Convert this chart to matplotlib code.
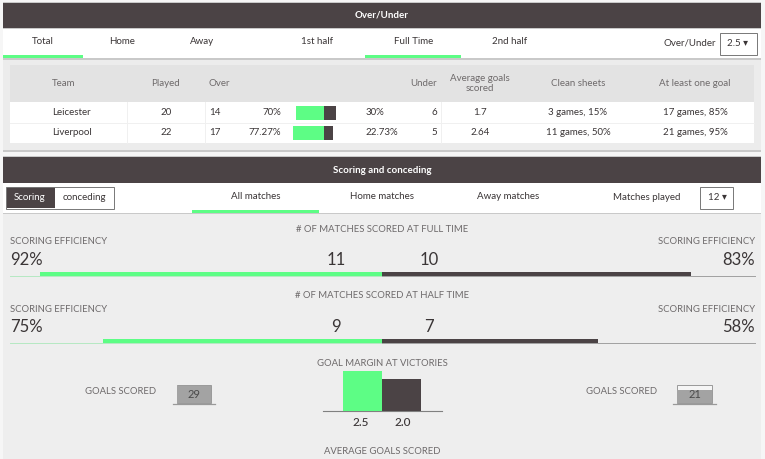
import matplotlib.pyplot as plt
from matplotlib.patches import Rectangle

plt.rcParams["font.family"] = ["Lato", "DejaVu Sans"]

DARK = "#4b4345"
GREEN = "#5dfd85"
GREY_TEXT = "#6e6a6b"
TEXT = "#3a3536"

# over/under table
top_tabs = ["Total", "Home", "Away", "1st half", "Full Time", "2nd half"]
team_headers = ["Team", "Played", "Over", "Under", "Average goals\nscored", "Clean sheets", "At least one goal"]
teams = ["Leicester", "Liverpool"]
played = [20, 22]
over_counts = [14, 17]
over_pct = [70, 77.27]
under_pct = [30, 22.73]
under_counts = [6, 5]
avg_goals = ["1.7", "2.64"]
clean_sheets = ["3 games, 15%", "11 games, 50%"]
one_goal = ["17 games, 85%", "21 games, 95%"]

# scoring and conceding
mid_tabs = ["All matches", "Home matches", "Away matches"]
eff_titles = ["# OF MATCHES SCORED AT FULL TIME", "# OF MATCHES SCORED AT HALF TIME"]
eff_home = [92, 75]
eff_away = [83, 58]
matches_home = [11, 9]
matches_away = [10, 7]
margins = [2.5, 2.0]
goals_scored = [29, 21]

fig = plt.figure(figsize=(7.65, 4.59), dpi=100, facecolor="#f4f4f4")
ax = fig.add_axes([0, 0, 1, 1])
ax.set_xlim(0, 765)
ax.set_ylim(459, 0)
ax.axis("off")


def box(x0, y0, x1, y1, color, edge="none", lw=0, z=1):
    ax.add_patch(Rectangle((x0, y0), x1 - x0, y1 - y0, facecolor=color, edgecolor=edge, linewidth=lw, zorder=z))


def txt(x, y, s, size=7, color=TEXT, ha="center", **kw):
    ax.text(x, y, s, fontsize=size, color=color, ha=ha, va="center", zorder=5, **kw)


# panel backgrounds
box(0, 0, 765, 459, "#f6f6f6", z=0)
box(3, 2, 761, 152, "#c9c9c9", z=0.5)
box(3, 156, 761, 459, "#c9c9c9", z=0.5)
box(3, 3, 761, 28, DARK)
box(3, 29, 761, 58, "white")
box(3, 60, 761, 150, "#ececec")
box(3, 157, 761, 183, DARK)
box(3, 183, 761, 213, "white")
box(3, 214, 761, 459, "#eeeeee")

txt(382, 15.5, "Over/Under", 7, "white", fontweight="bold")
txt(382, 170.5, "Scoring and conceding", 7, "white", fontweight="bold")

# top tabs
for x, s in zip([43, 122, 202, 317, 414, 510], top_tabs):
    txt(x, 42, s, 7)
box(3, 55, 83, 58, GREEN, z=2)
box(365, 55, 461, 58, GREEN, z=2)
txt(690, 43.5, "Over/Under", 7)
box(720.5, 32.5, 757, 54.5, "white", "#777777", 0.7)
txt(738, 44, "2.5 ▾", 7)

# table
box(10, 65, 754, 102, "#e3e3e3")
box(10, 102, 754, 142.5, "white")
ax.plot([10, 754], [122.5, 122.5], color="#f0f0f0", lw=0.7, zorder=2)
for x in [127.5, 205.5, 441.5]:
    ax.plot([x, x], [102, 142.5], color="#f0f0f0", lw=0.7, zorder=2)
for x, s, ha in zip([52, 166, 209, 437, 480, 578, 695], team_headers, ["left", "center", "left", "right", "center", "center", "center"]):
    txt(x, 83.5, s, 7, GREY_TEXT, ha=ha, linespacing=1.25)

for i, y in enumerate([112.5, 132.5]):
    txt(52, y, teams[i], 7, ha="left")
    txt(166, y, str(played[i]), 7)
    txt(209, y, str(over_counts[i]), 7, ha="left")
    txt(281, y, f"{over_pct[i]:g}%", 7, ha="right")
    txt(366, y, f"{under_pct[i]:g}%", 7, ha="left")
    txt(437, y, str(under_counts[i]), 7, ha="right")
    txt(480, y, avg_goals[i], 7)
    txt(578, y, clean_sheets[i], 7)
    txt(695, y, one_goal[i], 7)
    # mini over/under bar, 0.4px per percent either side of 324
    ax.barh(y, -over_pct[i] * 0.4, left=324, height=14, color=GREEN, zorder=3)
    ax.barh(y, under_pct[i] * 0.4, left=324, height=14, color=DARK, zorder=3)

# second panel tabs
box(7, 187, 55, 208, DARK, z=2)
box(55, 187, 114, 208, "white", z=2)
box(6.5, 186.5, 114.5, 208.5, "none", "#777777", 0.7, z=3)
txt(30, 197.5, "Scoring", 7, "white")
txt(84, 197.5, "conceding", 7)
for x, s in zip([256, 382, 508], mid_tabs):
    txt(x, 196.5, s, 7)
box(192, 210, 319, 213, GREEN, z=2)
txt(647, 197.5, "Matches played", 7)
box(700, 186.5, 733, 208.5, "white", "#777777", 0.7)
txt(717, 197.5, "12 ▾", 7)

# scoring efficiency rows, 3.72px per percent from the centre
for i, (title_y, label_y, num_y, bar_y) in enumerate([(229, 242, 260, 274), (296, 309, 327, 341)]):
    txt(382, title_y, eff_titles[i], 6.8, GREY_TEXT)
    txt(10, label_y, "SCORING EFFICIENCY", 6.8, GREY_TEXT, ha="left")
    txt(755, label_y, "SCORING EFFICIENCY", 6.8, GREY_TEXT, ha="right")
    txt(10, num_y, f"{eff_home[i]}%", 12, ha="left")
    txt(755, num_y, f"{eff_away[i]}%", 12, ha="right")
    txt(336, num_y, str(matches_home[i]), 12)
    txt(429, num_y, str(matches_away[i]), 12)
    ax.plot([10, 382], [bar_y + 1.5] * 2, color="#b5e8c2", lw=0.7, zorder=2)
    ax.plot([382, 755], [bar_y + 1.5] * 2, color="#a0a0a0", lw=0.7, zorder=2)
    ax.barh(bar_y, -eff_home[i] * 3.72, left=382, height=4, color=GREEN, zorder=3)
    ax.barh(bar_y, eff_away[i] * 3.72, left=382, height=4, color=DARK, zorder=3)

# goal margin, 16px per goal
txt(382, 363.5, "GOAL MARGIN AT VICTORIES", 6.8, GREY_TEXT)
ax.bar([362.5, 401.5], [-m * 16 for m in margins], bottom=410.5, width=39, color=[GREEN, DARK], zorder=3)
ax.plot([323, 442], [410.5, 410.5], color="#808080", lw=0.8, zorder=2)
txt(361, 422, f"{margins[0]:.1f}", 8.5, fontweight="medium")
txt(403, 422, f"{margins[1]:.1f}", 8.5, fontweight="medium")
txt(382, 451, "AVERAGE GOALS SCORED", 6.8, GREY_TEXT)

# goals scored cups, filled relative to the larger total
for i, (x_lab, x0, x1) in enumerate([(121, 177, 211, ), (622, 677, 712)]):
    txt(x_lab, 391, "GOALS SCORED", 6.8, GREY_TEXT)
    box(x0, 385, x1, 403, "#f5f5f5", "#999999", 0.7, z=2)
    fill = goals_scored[i] / max(goals_scored) * 17.5
    ax.bar((x0 + x1) / 2, -fill, bottom=403, width=x1 - x0, color="#a3a3a3", zorder=3)
    ax.plot([x0 - 4, x1 + 4], [403.5, 403.5], color="#999999", lw=0.9, zorder=4)
    txt((x0 + x1) / 2, 394, str(goals_scored[i]), 8, "#4a4a4a")

fig.savefig("out.png", dpi=100)
